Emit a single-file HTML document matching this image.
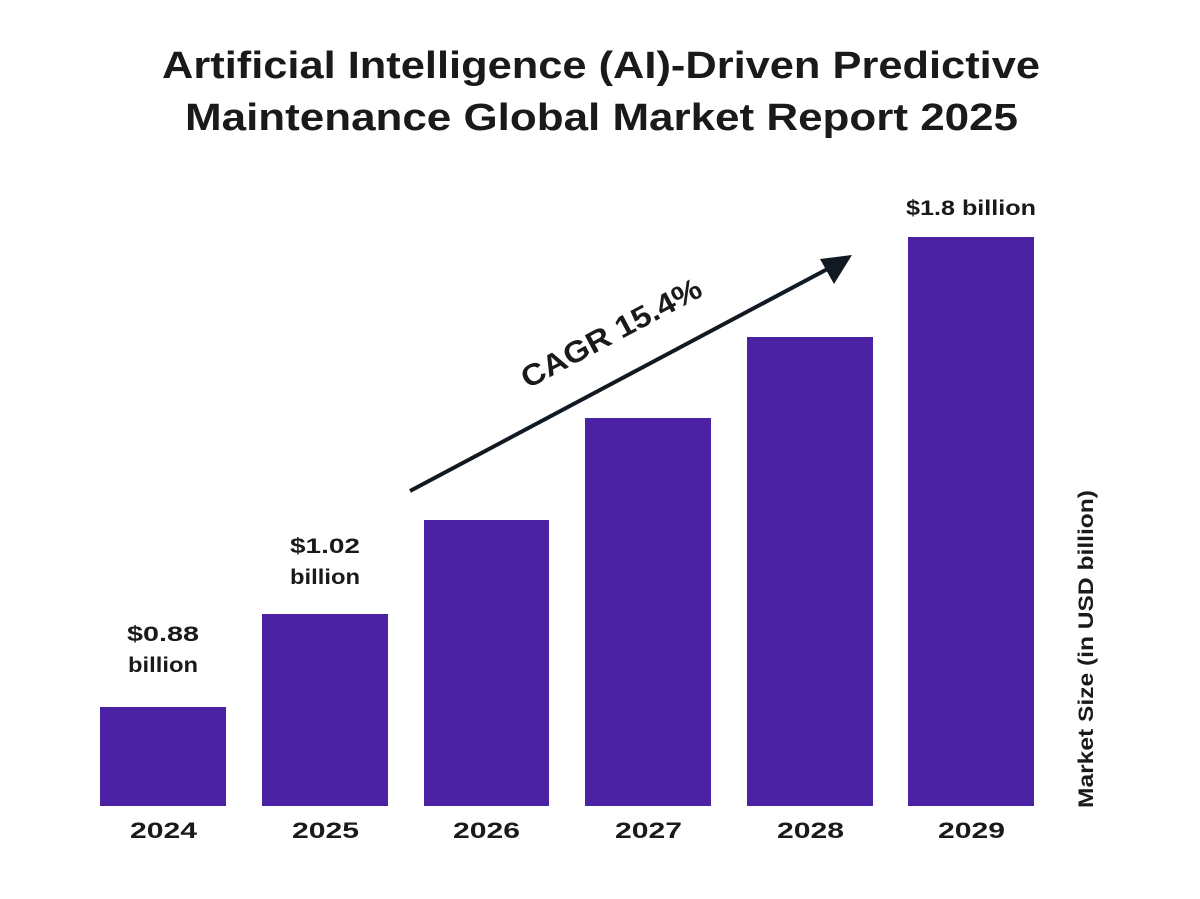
<!DOCTYPE html>
<html><head><meta charset="utf-8"><style>
body{margin:0;background:#fff;}
svg{display:block}
text{font-family:"Liberation Sans",sans-serif;font-weight:bold;fill:#1a1a1a}
</style></head><body>
<svg width="1200" height="899" viewBox="0 0 1200 899">
<rect width="1200" height="899" fill="#fff"/>
<text x="162" y="78" font-size="38" textLength="878" lengthAdjust="spacingAndGlyphs">Artificial Intelligence (AI)-Driven Predictive</text>
<text x="185" y="130" font-size="38" textLength="833" lengthAdjust="spacingAndGlyphs">Maintenance Global Market Report 2025</text>
<g fill="#4a22a3">
<rect x="100" y="707" width="126" height="99"/>
<rect x="262" y="614" width="126" height="192"/>
<rect x="424" y="520" width="125" height="286"/>
<rect x="585" y="418" width="126" height="388"/>
<rect x="747" y="337" width="126" height="469"/>
<rect x="908" y="237" width="126" height="569"/>
</g>
<g font-size="22">
<text x="130" y="838" textLength="67" lengthAdjust="spacingAndGlyphs">2024</text>
<text x="292" y="838" textLength="67" lengthAdjust="spacingAndGlyphs">2025</text>
<text x="453" y="838" textLength="67" lengthAdjust="spacingAndGlyphs">2026</text>
<text x="615" y="838" textLength="67" lengthAdjust="spacingAndGlyphs">2027</text>
<text x="777" y="838" textLength="67" lengthAdjust="spacingAndGlyphs">2028</text>
<text x="938" y="838" textLength="67" lengthAdjust="spacingAndGlyphs">2029</text>
</g>
<g font-size="21">
<text x="127" y="641" textLength="72" lengthAdjust="spacingAndGlyphs">$0.88</text>
<text x="128" y="672" textLength="70" lengthAdjust="spacingAndGlyphs">billion</text>
<text x="290" y="553" textLength="70" lengthAdjust="spacingAndGlyphs">$1.02</text>
<text x="290" y="584" textLength="70" lengthAdjust="spacingAndGlyphs">billion</text>
<text x="906" y="215" textLength="130" lengthAdjust="spacingAndGlyphs">$1.8 billion</text>
</g>
<line x1="410" y1="491" x2="835" y2="265" stroke="#111a22" stroke-width="4"/>
<polygon points="852,255 820,259 834,284" fill="#111a22"/>
<text x="0" y="0" font-size="30" text-anchor="middle" textLength="200" lengthAdjust="spacingAndGlyphs" transform="translate(616,342) rotate(-28)">CAGR 15.4%</text>
<text x="0" y="0" font-size="21" text-anchor="middle" textLength="318" lengthAdjust="spacingAndGlyphs" transform="translate(1093,649) rotate(-90)">Market Size (in USD billion)</text>
</svg>
</body></html>
